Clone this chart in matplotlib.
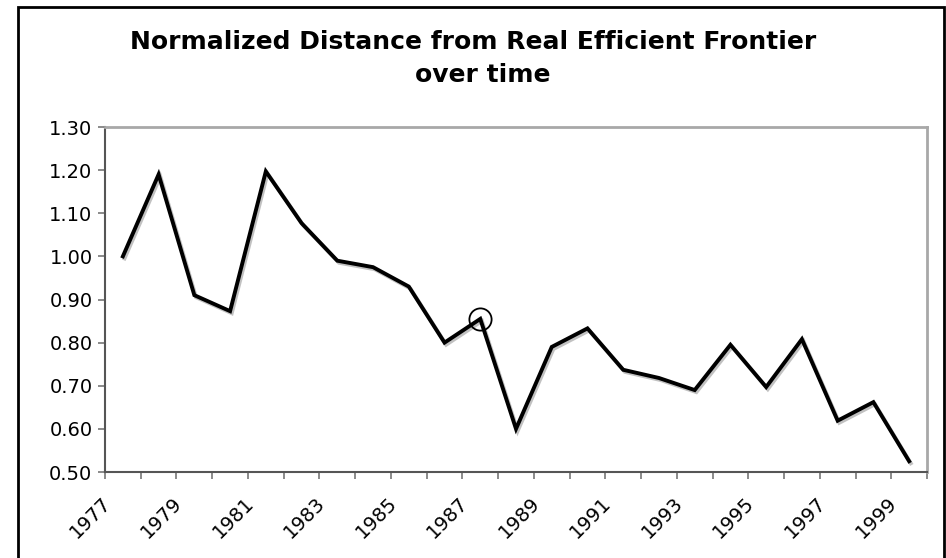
import matplotlib
matplotlib.use("Agg")
import matplotlib.pyplot as plt
import matplotlib.patheffects as pe
import matplotlib.transforms as mtransforms
from matplotlib.patches import Rectangle
import numpy as np

years = list(range(1977, 2000))
distance = [1.00, 1.19, 0.91, 0.873, 1.197, 1.077, 0.99, 0.975, 0.93, 0.80,
            0.855, 0.60, 0.79, 0.833, 0.737, 0.718, 0.69, 0.795, 0.697, 0.808,
            0.619, 0.662, 0.525]
highlight_year = 1987

fig = plt.figure(figsize=(9.46, 5.58), dpi=100)
ax = fig.add_axes([105/946, 1 - 472/558, (927 - 105)/946, (472 - 127)/558])

x = np.arange(len(years))
ax.plot(x, distance, color='black', lw=2.8, solid_joinstyle='miter',
        path_effects=[pe.SimpleLineShadow(offset=(1.2, -1.5), shadow_color='#999999', alpha=0.6),
                      pe.Normal()])
hi = years.index(highlight_year)
ax.plot(x[hi], distance[hi], 'o', ms=16, mfc='none', mec='black', mew=1.3)

ax.set_xlim(-0.5, len(years) - 0.5)
ax.set_ylim(0.5, 1.3)
yt = np.arange(0.5, 1.31, 0.1)
ax.set_yticks(yt)
ax.set_yticklabels(['%.2f' % v for v in yt])

ax.set_xticks(np.arange(-0.5, len(years), 1.0))
ax.set_xticklabels([])
ax.set_xticks(x[::2], minor=True)
ax.set_xticklabels([str(y) for y in years[::2]], minor=True, rotation=45,
                   ha='right', va='center', rotation_mode='anchor')
ax.tick_params(axis='x', which='minor', length=0, pad=20, labelsize=14)
ax.tick_params(axis='x', which='major', length=5, width=1.2, color='#777777')
ax.tick_params(axis='y', length=5, width=1.2, color='#777777', labelsize=14, pad=4)

# shift rotated year labels a bit left of the category centre
shift = mtransforms.ScaledTranslation(-0.15, 0, fig.dpi_scale_trans)
for lab in ax.get_xticklabels(minor=True):
    lab.set_transform(lab.get_transform() + shift)

for s in ['left', 'bottom']:
    ax.spines[s].set_color('#555555')
    ax.spines[s].set_linewidth(1.5)
for s in ['top', 'right']:
    ax.spines[s].set_color('#a8a8a8')
    ax.spines[s].set_linewidth(2)

fig.text(0.5, 1 - 42/558, 'Normalized Distance from Real Efficient Frontier',
         ha='center', va='center', fontsize=18, fontweight='bold')
fig.text(0.51, 1 - 75/558, 'over time', ha='center', va='center',
         fontsize=18, fontweight='bold')

fig.patches.append(Rectangle((18/946, -0.05), (944 - 18)/946, 1.05 - 7/558,
                             transform=fig.transFigure, fill=False,
                             edgecolor='black', lw=2))

fig.savefig('out.png', dpi=100)
